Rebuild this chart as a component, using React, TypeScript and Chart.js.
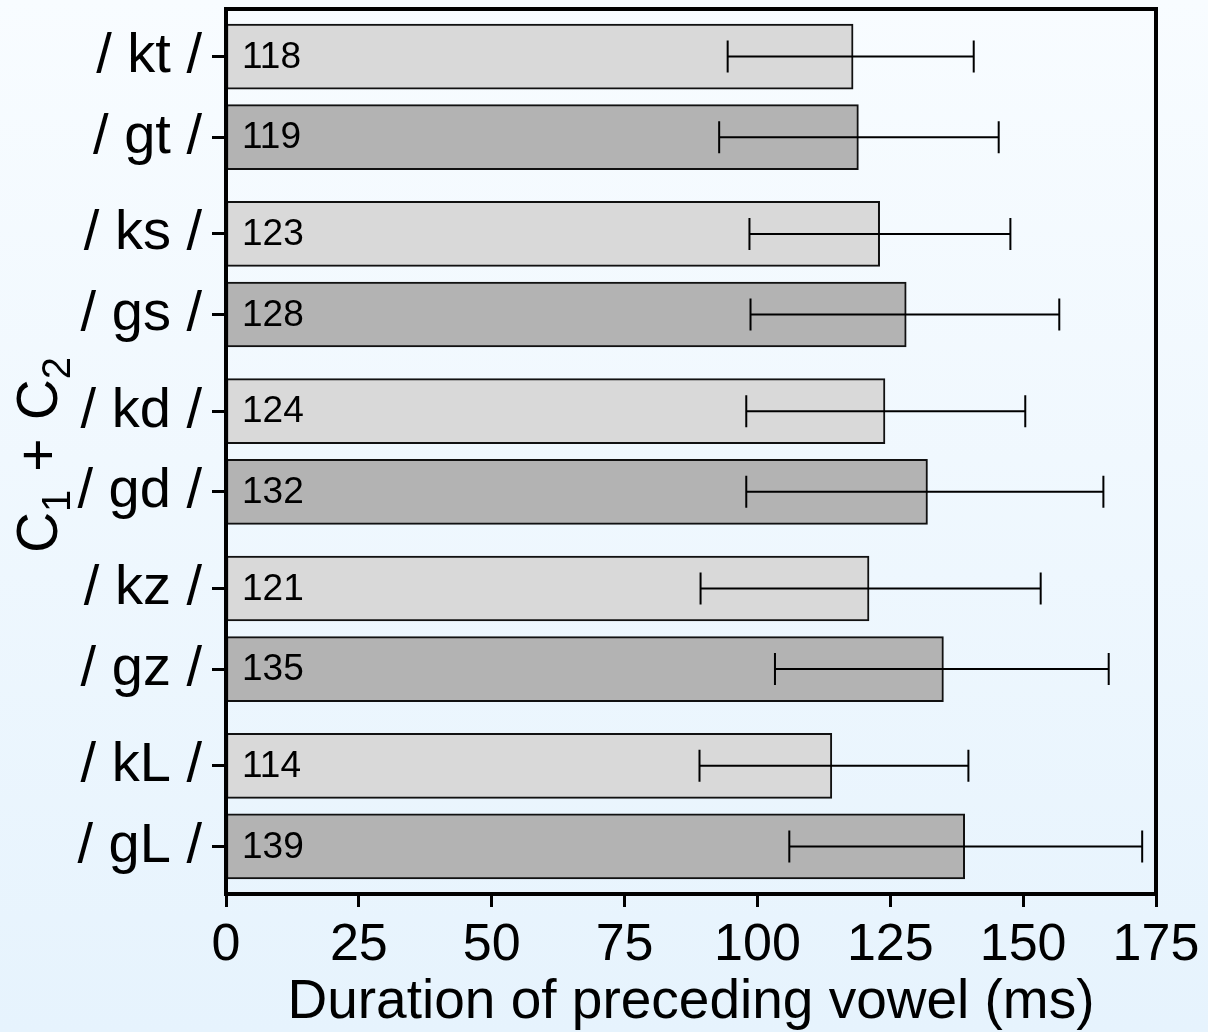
import React, { useEffect, useRef } from "react";
import { Chart, registerables } from "chart.js";

Chart.register(...registerables);

// ---- data ----
const categories = ["kt", "gt", "ks", "gs", "kd", "gd", "kz", "gz", "kL", "gL"];
const positions = [0, 1, 2.2, 3.2, 4.4, 5.4, 6.6, 7.6, 8.8, 9.8];
const means = [118, 119, 123, 128, 124, 132, 121, 135, 114, 139];
const errLow = [94.4, 92.8, 98.5, 98.7, 97.9, 97.9, 89.3, 103.3, 89.1, 106.0];
const errHigh = [140.7, 145.4, 147.6, 156.8, 150.4, 165.1, 153.3, 166.1, 139.7, 172.4];
const xTickValues = [0, 25, 50, 75, 100, 125, 150, 175];
const xTitle = "Duration of preceding vowel (ms)";

const FONT = '"Liberation Sans", Arial, Helvetica, sans-serif';
const LIGHT = "#d9d9d9";
const DARK = "#b3b3b3";

const overlayPlugin = {
  id: "overlay",
  afterDatasetsDraw(chart: any) {
    const { ctx, scales } = chart;
    const xs = scales.x;
    const ys = scales.y;
    ctx.save();
    // error bars
    ctx.strokeStyle = "#000";
    ctx.lineWidth = 2;
    for (let i = 0; i < categories.length; i++) {
      const y = ys.getPixelForValue(positions[i]);
      const x1 = xs.getPixelForValue(errLow[i]);
      const x2 = xs.getPixelForValue(errHigh[i]);
      ctx.beginPath();
      ctx.moveTo(x1, y);
      ctx.lineTo(x2, y);
      ctx.moveTo(x1, y - 16);
      ctx.lineTo(x1, y + 16);
      ctx.moveTo(x2, y - 16);
      ctx.lineTo(x2, y + 16);
      ctx.stroke();
    }
    // value labels
    ctx.fillStyle = "#000";
    ctx.font = `37px ${FONT}`;
    ctx.textAlign = "left";
    ctx.textBaseline = "middle";
    const x0 = xs.getPixelForValue(0);
    for (let i = 0; i < categories.length; i++) {
      const y = ys.getPixelForValue(positions[i]);
      ctx.fillText(String(means[i]), x0 + 16, y + 1);
    }
    ctx.restore();
  },
  afterDraw(chart: any) {
    const { ctx, chartArea } = chart;
    ctx.save();
    // frame
    ctx.strokeStyle = "#000";
    ctx.lineWidth = 4;
    ctx.strokeRect(chartArea.left, chartArea.top, chartArea.right - chartArea.left, chartArea.bottom - chartArea.top);
    // y title "C1 + C2" with subscripts
    const mainF = `57px ${FONT}`;
    const subF = `40px ${FONT}`;
    const pieces = [
      { t: "C", f: mainF, dy: 0, gap: 0 },
      { t: "1", f: subF, dy: 13, gap: 0 },
      { t: "+", f: mainF, dy: 0, gap: 18 },
      { t: "C", f: mainF, dy: 0, gap: 18 },
      { t: "2", f: subF, dy: 13, gap: 0 },
    ];
    let total = 0;
    const widths = pieces.map((p) => {
      ctx.font = p.f;
      const w = ctx.measureText(p.t).width;
      total += w + p.gap;
      return w;
    });
    ctx.translate(57, 455);
    ctx.rotate(-Math.PI / 2);
    ctx.fillStyle = "#000";
    ctx.textBaseline = "alphabetic";
    ctx.textAlign = "left";
    let x = -total / 2;
    pieces.forEach((p, i) => {
      ctx.font = p.f;
      x += p.gap;
      ctx.fillText(p.t, x, p.dy);
      x += widths[i];
    });
    ctx.restore();
  },
};

export default function App() {
  const canvasRef = useRef<HTMLCanvasElement | null>(null);

  useEffect(() => {
    const canvas = canvasRef.current;
    if (!canvas) return;
    const chart = new Chart(canvas, {
      type: "bar",
      data: {
        datasets: [
          {
            data: categories.map((c, i) => ({ x: means[i], y: positions[i] })),
            backgroundColor: categories.map((c) => (c.startsWith("k") ? LIGHT : DARK)),
            borderColor: "#111",
            borderWidth: 2,
            borderSkipped: false,
            barThickness: 65,
          } as any,
        ],
      },
      options: {
        indexAxis: "y",
        animation: false,
        responsive: false,
        devicePixelRatio: 1,
        layout: { padding: { top: 9, right: 52, left: 0, bottom: 0 } },
        plugins: {
          legend: { display: false },
          tooltip: { enabled: false },
          title: { display: false },
        },
        scales: {
          x: {
            type: "linear",
            position: "bottom",
            min: 0,
            max: 175,
            offset: false,
            afterBuildTicks: (scale: any) => {
              scale.ticks = xTickValues.map((v) => ({ value: v }));
            },
            afterFit: (scale: any) => {
              scale.height = 138;
              scale.paddingLeft = 0;
              scale.paddingRight = 0;
            },
            border: { display: false },
            grid: {
              display: true,
              offset: false,
              drawOnChartArea: false,
              drawTicks: true,
              tickLength: 13,
              tickWidth: 3,
              tickColor: "#000",
            },
            ticks: {
              color: "#000",
              font: { family: FONT, size: 52 },
              padding: 7,
              maxRotation: 0,
              autoSkip: false,
            },
            title: {
              display: true,
              text: xTitle,
              color: "#000",
              font: { family: FONT, size: 55 },
              padding: { top: 0, bottom: -4 },
            },
          },
          y: {
            type: "linear",
            position: "left",
            reverse: true,
            min: -0.59,
            max: 10.39,
            offset: false,
            afterBuildTicks: (scale: any) => {
              scale.ticks = positions.map((v) => ({ value: v }));
            },
            afterFit: (scale: any) => {
              scale.width = 226;
              scale.paddingTop = 0;
              scale.paddingBottom = 0;
            },
            border: { display: false },
            grid: {
              display: true,
              offset: false,
              drawOnChartArea: false,
              drawTicks: true,
              tickLength: 14,
              tickWidth: 3,
              tickColor: "#000",
            },
            ticks: {
              color: "#000",
              font: { family: FONT, size: 56 },
              padding: 10,
              autoSkip: false,
              callback: (_v: any, i: number) => `/ ${categories[i]} /`,
            },
          },
        },
      } as any,
      plugins: [overlayPlugin],
    });
    return () => chart.destroy();
  }, []);

  return (
    <div
      style={{
        position: "fixed",
        left: 0,
        top: 0,
        width: 1208,
        height: 1032,
        background: "linear-gradient(to bottom, #f8fcff 0%, #e6f3fd 100%)",
      }}
    >
      <canvas ref={canvasRef} width={1208} height={1032} style={{ display: "block" }} />
    </div>
  );
}
